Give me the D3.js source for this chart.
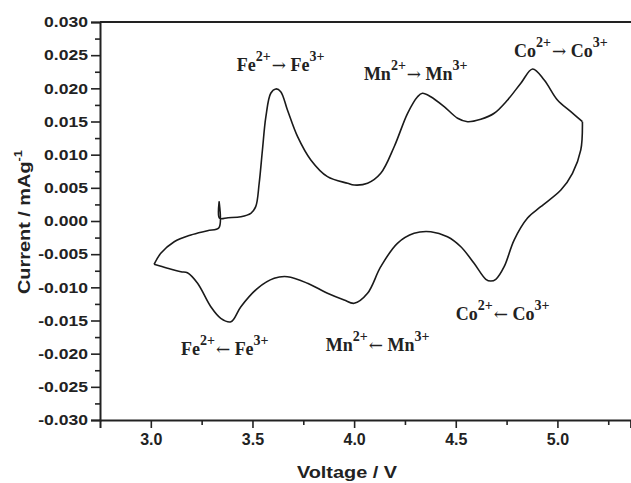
<!DOCTYPE html>
<html>
<head>
<meta charset="utf-8">
<script src="https://cdn.jsdelivr.net/npm/d3@7"></script>
<style>
  body { margin: 0; background: #fff; }
  svg { display: block; }
</style>
</head>
<body>
<div id="chart"></div>
<script>
// anodic sweep (charge), 3.0 -> 5.1 V
var chargeV = [3.016, 3.049, 3.115, 3.197, 3.279, 3.335, 3.336, 3.338, 3.380, 3.443, 3.492, 3.516, 3.533, 3.549,
  3.566, 3.590, 3.615, 3.639, 3.672, 3.722, 3.787, 3.869, 3.968, 4.000, 4.066, 4.131, 4.197, 4.263, 4.312, 4.336,
  4.377, 4.443, 4.509, 4.558, 4.623, 4.689, 4.755, 4.820, 4.878, 4.935, 5.000, 5.066, 5.123];
var chargeI = [-0.00653, -0.00487, -0.00312, -0.00211, -0.00146, -0.00101, 0.00291, 0.00041, 0.00050, 0.00065, 0.00116, 0.00216, 0.00569, 0.01071,
  0.01573, 0.01926, 0.01991, 0.01950, 0.01674, 0.01271, 0.00920, 0.00668, 0.00569, 0.00543, 0.00569, 0.00719, 0.01120, 0.01624, 0.01874, 0.01926,
  0.01874, 0.01724, 0.01549, 0.01497, 0.01534, 0.01624, 0.01825, 0.02077, 0.02292, 0.02126, 0.01825, 0.01648, 0.01497];

// cathodic sweep (discharge), 5.1 -> 3.0 V
var dischargeV = [5.123, 5.115, 5.074, 5.017, 4.918, 4.853, 4.787, 4.738, 4.697, 4.672, 4.648, 4.590, 4.525, 4.459,
  4.377, 4.295, 4.213, 4.131, 4.066, 4.000, 3.951, 3.869, 3.771, 3.672, 3.607, 3.525, 3.443, 3.394, 3.344, 3.295,
  3.230, 3.180, 3.148, 3.082, 3.016];
var dischargeI = [0.01497, 0.01071, 0.00719, 0.00467, 0.00216, 0.00045, -0.00287, -0.00689, -0.00879, -0.00905, -0.00879, -0.00638, -0.00388, -0.00237,
  -0.00161, -0.00185, -0.00336, -0.00689, -0.01090, -0.01241, -0.01191, -0.01090, -0.00939, -0.00840, -0.00864, -0.01015, -0.01292, -0.01519, -0.01467, -0.01292,
  -0.00939, -0.00780, -0.00765, -0.00713, -0.00653];

var xTicks = [3.0, 3.5, 4.0, 4.5, 5.0];
var xMinor = [3.25, 3.75, 4.25, 4.75, 5.25];
var yTicks = d3.range(-6, 7).map(k => k * 0.005);
var yMinor = d3.range(-11, 12, 2).map(k => k * 0.0025);

// redox annotations: element, arrow, position (V, mA/g) of the text start
var peakEl = ["Fe", "Mn", "Co", "Co", "Mn", "Fe"];
var peakArrow = ["\u2192", "\u2192", "\u2192", "\u2190", "\u2190", "\u2190"];
var peakV = [3.423, 4.048, 4.786, 4.500, 3.861, 3.148];
var peakI = [0.0226, 0.0213, 0.0247, -0.0149, -0.0196, -0.0202];

var width = 631, height = 483;
var sans = "Arial, 'Liberation Sans', sans-serif";
var svg = d3.select("#chart").append("svg")
  .attr("width", width)
  .attr("height", height)
  .style("background", "#fff");

var x = d3.scaleLinear().domain([2.75, 5.36]).range([100, 630.6]);
var y = d3.scaleLinear().domain([-0.03, 0.03]).range([420, 22]);

// axes
var yAxis = svg.append("g")
  .attr("transform", "translate(100,0)")
  .call(d3.axisLeft(y).tickValues(yTicks).tickSize(9).tickFormat(d => d.toFixed(3)));
svg.append("g")
  .attr("transform", "translate(100,0)")
  .call(d3.axisLeft(y).tickValues(yMinor).tickSize(5).tickFormat(""))
  .call(g => g.select(".domain").remove());

var xAxis = svg.append("g")
  .attr("transform", "translate(0,420)")
  .call(d3.axisBottom(x).tickValues(xTicks).tickSize(8).tickPadding(6).tickFormat(d3.format(".1f")));
svg.append("g")
  .attr("transform", "translate(0,420)")
  .call(d3.axisBottom(x).tickValues(xMinor).tickSize(5).tickFormat(""))
  .call(g => g.select(".domain").remove());

svg.selectAll(".domain").attr("stroke", "#222").attr("stroke-width", 2);
svg.selectAll(".tick line").attr("stroke", "#222").attr("stroke-width", 1.6);
svg.selectAll(".tick text")
  .attr("fill", "#222")
  .attr("font-family", sans)
  .attr("font-weight", "bold");
// the y labels are set in a wide bold face: stretch Arial a little
yAxis.selectAll(".tick text")
  .attr("font-size", 15)
  .attr("x", 0)
  .attr("transform", "translate(-12,0) scale(1.17,1)");
xAxis.selectAll(".tick text").attr("font-size", 16);

// top frame line
svg.append("line")
  .attr("x1", x(2.75)).attr("x2", width)
  .attr("y1", y(0.03)).attr("y2", y(0.03))
  .attr("stroke", "#222").attr("stroke-width", 2);

// axis titles
svg.append("text")
  .attr("transform", "translate(347,478) scale(1.17,1)")
  .attr("text-anchor", "middle")
  .attr("font-family", sans)
  .attr("font-weight", "bold")
  .attr("font-size", 17)
  .attr("fill", "#222")
  .text("Voltage / V");

var yt = svg.append("text")
  .attr("transform", "translate(30,222) rotate(-90) scale(1.17,1)")
  .attr("text-anchor", "middle")
  .attr("font-family", sans)
  .attr("font-weight", "bold")
  .attr("font-size", 17)
  .attr("fill", "#222");
yt.append("tspan").text("Current / mAg");
yt.append("tspan").attr("dy", -8).attr("font-size", 11).text("-1");

// CV curve
var line = d3.line()
  .x(d => x(d[0]))
  .y(d => y(d[1]))
  .curve(d3.curveCatmullRom.alpha(0.5));

var charge = chargeV.map((v, i) => [v, chargeI[i]]);
var discharge = dischargeV.map((v, i) => [v, dischargeI[i]]);

svg.append("path")
  .datum(charge)
  .attr("d", line)
  .attr("fill", "none")
  .attr("stroke", "#1a1a1a")
  .attr("stroke-width", 1.6);
svg.append("path")
  .datum(discharge)
  .attr("d", line)
  .attr("fill", "none")
  .attr("stroke", "#1a1a1a")
  .attr("stroke-width", 1.6);

// annotations
peakEl.forEach(function (el, i) {
  var t = svg.append("text")
    .attr("x", x(peakV[i]))
    .attr("y", y(peakI[i]))
    .attr("font-family", "'Liberation Serif', 'Times New Roman', serif")
    .attr("font-weight", "bold")
    .attr("font-size", 18)
    .attr("fill", "#222");
  t.append("tspan").text(el);
  t.append("tspan").attr("dy", -10).attr("font-size", 14).text("2+");
  t.append("tspan").attr("dy", 10).attr("dx", 1).attr("font-family", "'DejaVu Serif', serif")
    .attr("font-weight", "normal").attr("font-size", 17).text(peakArrow[i]);
  t.append("tspan").text(" " + el);
  t.append("tspan").attr("dy", -10).attr("font-size", 14).text("3+");
});
</script>
</body>
</html>
